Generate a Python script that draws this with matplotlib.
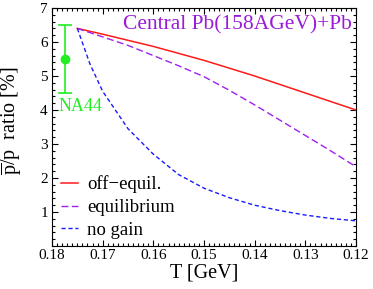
import numpy as np
import matplotlib
matplotlib.use("Agg")
import matplotlib.pyplot as plt
from matplotlib.ticker import MultipleLocator

# Serif text everywhere, like the original xmgrace plot
plt.rcParams["font.family"] = "serif"
plt.rcParams["font.serif"] = ["Liberation Serif", "DejaVu Serif"]
plt.rcParams["mathtext.fontset"] = "custom"
plt.rcParams["mathtext.rm"] = "Liberation Serif"

# Data
t_red = [0.175, 0.170, 0.160, 0.150, 0.140, 0.130, 0.120]
off_equil = [6.40, 6.23, 5.87, 5.46, 5.00, 4.50, 4.00]

t_purple = [0.175, 0.170, 0.165, 0.160, 0.155, 0.150, 0.145,
            0.140, 0.135, 0.130, 0.125, 0.120]
equilibrium = [6.40, 6.15, 5.90, 5.60, 5.30, 4.98, 4.58,
               4.15, 3.70, 3.25, 2.80, 2.33]

t_blue = [0.175, 0.1725, 0.170, 0.165, 0.160, 0.155, 0.150,
          0.145, 0.140, 0.135, 0.130, 0.125, 0.120]
no_gain = [6.40, 5.35, 4.55, 3.45, 2.70, 2.10, 1.70,
           1.42, 1.20, 1.04, 0.91, 0.81, 0.74]

na44_t = [0.1774]
na44_val = [5.5]
na44_err = [1.0]

fig = plt.figure(figsize=(3.73, 2.89), dpi=100)
ax = fig.add_axes([0.1394, 0.1488, 0.8150, 0.8235])

ax.plot(t_red, off_equil, color="#ff1a1a", lw=1.1, label="off\u2212equil.")
ax.plot(t_purple, equilibrium, color="#a020f0", lw=1.0,
        linestyle=(0, (5, 2.5)), label="equilibrium")
ax.plot(t_blue, no_gain, color="#1a1aff", lw=1.0,
        linestyle=(0, (3, 2)), label="no gain")

# NA44 data point
ax.errorbar(na44_t, na44_val, yerr=na44_err, fmt="o", color="#22ee22",
            ms=6, capsize=5, elinewidth=1.2, capthick=1.2)
ax.text(0.1744, 4.10, "NA44", color="#22ee22", fontsize=13,
        ha="center", va="center")

ax.text(0.987, 0.93, "Central Pb(158AGeV)+Pb", color="#9a1ad8",
        fontsize=15.5, ha="right", va="center", transform=ax.transAxes)

ax.set_xlim(0.18, 0.12)
ax.set_ylim(0, 7)
ax.xaxis.set_minor_locator(MultipleLocator(0.001))
ax.yaxis.set_minor_locator(MultipleLocator(0.2))
ax.set_xticks([0.18, 0.17, 0.16, 0.15, 0.14, 0.13, 0.12])
ax.set_xticklabels(["0.18", "0.17", "0.16", "0.15", "0.14", "0.13", "0.12"])
ax.set_yticks([1, 2, 3, 4, 5, 6, 7])
ax.set_yticklabels(["1", "2", "3", "4", "5", "6", "7"])

ax.tick_params(which="both", direction="in", top=True, right=True,
               labelsize=11, width=0.8)
ax.tick_params(which="major", length=4.5, pad=2)
ax.tick_params(which="minor", length=2.5)
ax.tick_params(axis="y", pad=3)

ax.set_xlabel("T [GeV]", fontsize=14.5, labelpad=1)
ax.set_ylabel(r"$\overline{\mathrm{p}}$/p  ratio [%]", fontsize=14.5)
ax.yaxis.set_label_coords(-0.092, 0.525)

leg = ax.legend(loc="lower left", bbox_to_anchor=(0.028, 0.03),
                frameon=False, fontsize=13.5, handlelength=0.95,
                handletextpad=0.45, labelspacing=0.30, borderpad=0,
                borderaxespad=0)

fig.savefig("out.png", dpi=100)
